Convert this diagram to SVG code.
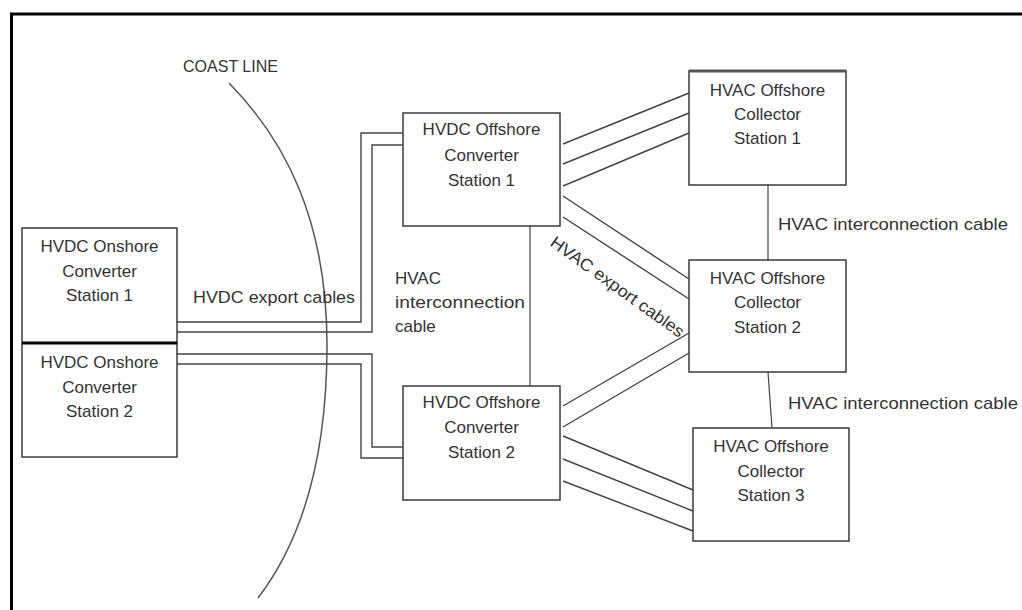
<svg xmlns="http://www.w3.org/2000/svg" width="1022" height="610" viewBox="0 0 1022 610">
<style>
.box{fill:#fff;stroke:#3a3a3a;stroke-width:1.5}
.cab{fill:none;stroke:#444;stroke-width:1.4}
.ln{fill:none;stroke:#444;stroke-width:1.2}
text{font-family:"Liberation Sans",Arial,sans-serif;font-size:17px;fill:#333}
.c{text-anchor:middle}
</style>
<rect width="1022" height="610" fill="#fff"/>
<path d="M11.5,610 V14 H1022" fill="none" stroke="#000" stroke-width="3"/>
<g id="coast">
<path d="M229,83 C285,140 327,220 327,345 C327,440 310,530 258,598" fill="none" stroke="#555" stroke-width="1.5"/>
<text x="183" y="72" font-size="16" textLength="95" lengthAdjust="spacingAndGlyphs">COAST LINE</text>
</g>
<g id="connectors">
<path class="cab" d="M177,322 H361 V133 H403"/>
<path class="cab" d="M177,332 H372 V145 H403"/>
<path class="cab" d="M177,354 H372 V447 H403"/>
<path class="cab" d="M177,364 H361 V458 H403"/>
<path class="ln" d="M530,226 V386"/>
<path class="ln" d="M768,185 V260"/>
<path class="ln" d="M768,372 L772,428"/>
<path class="cab" d="M563,144 L689,93 M563,164 L689,113 M563,186 L689,133"/>
<path class="cab" d="M563,196 L689,279 M563,217 L689,299"/>
<path class="cab" d="M563,406 L689,333 M563,427 L689,353"/>
<path class="cab" d="M563,436 L693,490 M563,459 L693,511 M563,481 L693,531"/>
<text x="193" y="303" textLength="162" lengthAdjust="spacingAndGlyphs">HVDC export cables</text>
<text x="395" y="284">HVAC</text>
<text x="395" y="308" textLength="130" lengthAdjust="spacingAndGlyphs">interconnection</text>
<text x="395" y="332">cable</text>
<text x="778" y="230" textLength="230" lengthAdjust="spacingAndGlyphs">HVAC interconnection cable</text>
<text x="788" y="409" textLength="230" lengthAdjust="spacingAndGlyphs">HVAC interconnection cable</text>
<text transform="translate(549,245) rotate(35.6)" textLength="160" lengthAdjust="spacingAndGlyphs">HVAC export cables</text>
</g>
<g id="onshore1">
<rect class="box" x="22" y="228" width="155" height="115"/>
<text class="c" x="99.5" y="252">HVDC Onshore</text>
<text class="c" x="99.5" y="277">Converter</text>
<text class="c" x="99.5" y="301">Station 1</text>
</g>
<g id="onshore2">
<rect class="box" x="22" y="343" width="155" height="114"/>
<text class="c" x="99.5" y="368">HVDC Onshore</text>
<text class="c" x="99.5" y="393">Converter</text>
<text class="c" x="99.5" y="417">Station 2</text>
<line x1="22" y1="343" x2="177" y2="343" stroke="#000" stroke-width="3"/>
</g>
<g id="offshore1">
<rect class="box" x="403" y="113" width="157" height="113"/>
<text class="c" x="481.5" y="135">HVDC Offshore</text>
<text class="c" x="481.5" y="161">Converter</text>
<text class="c" x="481.5" y="186">Station 1</text>
</g>
<g id="offshore2">
<rect class="box" x="403" y="386" width="157" height="114"/>
<text class="c" x="481.5" y="408">HVDC Offshore</text>
<text class="c" x="481.5" y="433">Converter</text>
<text class="c" x="481.5" y="458">Station 2</text>
</g>
<g id="collector1">
<rect class="box" x="689" y="71" width="157" height="114"/>
<line x1="689" y1="71" x2="846" y2="71" stroke="#555" stroke-width="3"/>
<text class="c" x="767.5" y="96">HVAC Offshore</text>
<text class="c" x="767.5" y="120">Collector</text>
<text class="c" x="767.5" y="144">Station 1</text>
</g>
<g id="collector2">
<rect class="box" x="689" y="260" width="157" height="112"/>
<text class="c" x="767.5" y="284">HVAC Offshore</text>
<text class="c" x="767.5" y="308">Collector</text>
<text class="c" x="767.5" y="333">Station 2</text>
</g>
<g id="collector3">
<rect class="box" x="693" y="428" width="156" height="113"/>
<text class="c" x="771" y="452">HVAC Offshore</text>
<text class="c" x="771" y="477">Collector</text>
<text class="c" x="771" y="501">Station 3</text>
</g>
</svg>
